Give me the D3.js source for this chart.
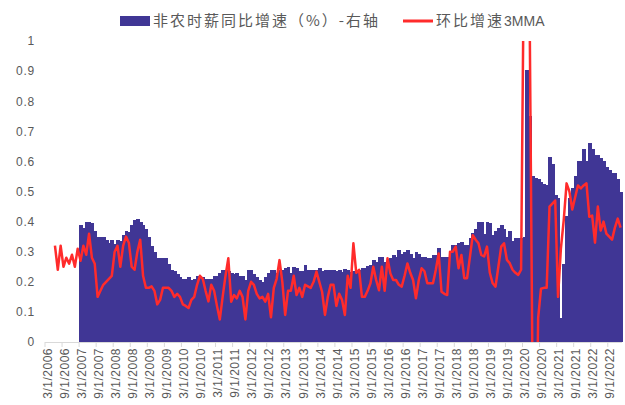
<!DOCTYPE html>
<html>
<head>
<meta charset="utf-8">
<script src="https://cdn.jsdelivr.net/npm/d3@7"></script>
<style>
  body { margin: 0; background: #fff; }
  svg text { font-family: "Liberation Sans", Arial, sans-serif; fill: #595959; }
  .legend text { font-family: "Noto Sans CJK SC", sans-serif; font-size: 15px; letter-spacing: 2px; }
</style>
</head>
<body>
<svg width="625" height="405"></svg>
<script>
// ---- data ----
const axisStart = new Date(2006, 2, 1);   // first category 3/1/2006
const axisEnd = new Date(2023, 1, 1);     // exclusive -> last category 1/1/2023

// 非农时薪同比增速（%），right axis, monthly from 3/1/2007
const barStart = new Date(2007, 2, 1);
const wageYoY = [
  3.9, 3.8, 4.0, 4.0, 3.95, 3.7, 3.5, 3.5, 3.5, 3.4,
  3.3, 3.4, 3.25, 3.4, 3.35, 3.55, 3.7, 3.65, 3.9, 4.05, 4.1, 4.0,
  3.9, 3.75, 3.5, 3.2, 3.0, 2.8, 2.8, 2.8, 2.8, 2.6, 2.4, 2.35,
  2.25, 2.15, 2.1, 2.1, 2.15, 2.05, 2.1, 2.2, 2.2, 2.17, 2.1, 2.1,
  2.1, 2.2, 2.2, 2.3, 2.4, 2.4, 2.35, 2.28, 2.25, 2.3, 2.2, 2.2,
  2.05, 2.4, 2.4, 2.25, 2.15, 2.05, 2.0, 2.15, 2.3, 2.4, 2.4, 2.3,
  2.4, 2.4, 2.45, 2.5, 2.3, 2.5, 2.45, 2.35, 2.35, 2.55, 2.4, 2.4,
  2.4, 2.4, 2.45, 2.35, 2.4, 2.4, 2.4, 2.4, 2.35, 2.4, 2.34, 2.41,
  2.4, 2.34, 2.36, 2.39, 2.39, 2.45, 2.45, 2.53, 2.55, 2.72, 2.67, 2.83,
  2.83, 2.67, 2.67, 2.78, 2.89, 2.83, 3.05, 2.94, 3.0, 3.05, 2.94, 2.78,
  3.0, 2.94, 2.83, 2.83, 2.8, 2.78, 2.89, 2.89, 3.11, 2.83, 2.83, 2.83,
  3.0, 3.22, 3.22, 3.28, 3.33, 3.22, 3.22, 3.44, 3.61, 3.77, 4.0, 4.0,
  3.6, 4.0, 3.95, 3.55, 3.7, 3.8, 3.9, 3.75, 3.5, 3.7, 3.35, 3.45,
  3.45, 3.45, 3.5, 9.04, 7.5, 5.5, 5.45, 5.4, 5.3, 5.25, 5.2, 6.15,
  5.9, 4.9, 4.8, 0.8, 2.6, 4.2, 4.8, 5.1, 5.5, 6.0, 6.0, 6.4,
  6.0, 6.6, 6.4, 6.2, 6.2, 6.1, 6.0, 5.8, 5.7, 5.6, 5.6, 5.4,
  5.0
];

// 环比增速3MMA, left axis, monthly from 6/1/2006
const lineStart = new Date(2006, 5, 1);
const mom3mma = [
  .32, .24, .32, .25, .28, .26, .29,
  .25, .31, .27, .32, .29, .36, .28, .26, .15, .17, .19, .20,
  .21, .22, .30, .32, .25, .32, .35, .33, .25, .24, .30, .34,
  .22, .18, .18, .185, .17, .125, .14, .18, .18, .18, .17, .15,
  .16, .15, .125, .12, .113, .14, .15, .19, .22, .21, .17, .135,
  .19, .17, .12, .075, .15, .22, .278, .134, .156, .145, .17, .15,
  .075, .17, .20, .19, .16, .145, .15, .134, .16, .082, .18, .21,
  .272, .20, .09, .17, .17, .22, .156, .18, .15, .19, .185, .18,
  .20, .234, .20, .166, .09, .15, .19, .19, .12, .16, .14, .09,
  .22, .18, .328, .23, .24, .15, .15, .17, .195, .25, .206, .172,
  .25, .17, .278, .228, .206, .206, .19, .184, .22, .261, .23, .206,
  .145, .206, .245, .235, .195, .195, .195, .24, .294, .167, .16, .156,
  .30, .30, .317, .245, .289, .212, .212, .283, .355, .34, .328, .289,
  .284, .317, .23, .195, .184, .25, .317, .328, .273, .262, .24, .23,
  .223, .24, 1.3, 2.0, 1.1, -.1, -.6, .08, .177, .18, .18, .45,
  .46, .47, .15, .31, .405, .527, .50, .44, .48, .52, .51, .52,
  .527, .416, .42, .33, .45, .37, .40, .36, .35, .34, .38, .41,
  .38
];

const yTicks = [0, 0.1, 0.2, 0.3, 0.4, 0.5, 0.6, 0.7, 0.8, 0.9, 1];
const xTickLabels = [
  '3/1/2006', '9/1/2006', '3/1/2007', '9/1/2007', '3/1/2008', '9/1/2008',
  '3/1/2009', '9/1/2009', '3/1/2010', '9/1/2010', '3/1/2011', '9/1/2011',
  '3/1/2012', '9/1/2012', '3/1/2013', '9/1/2013', '3/1/2014', '9/1/2014',
  '3/1/2015', '9/1/2015', '3/1/2016', '9/1/2016', '3/1/2017', '9/1/2017',
  '3/1/2018', '9/1/2018', '3/1/2019', '9/1/2019', '3/1/2020', '9/1/2020',
  '3/1/2021', '9/1/2021', '3/1/2022', '9/1/2022'
];
const legendBar = '非农时薪同比增速（%）-右轴';
const legendLine = ['环比增速', '3MMA'];

// ---- chart ----
const svg = d3.select('svg');
const width = +svg.attr('width');
const height = +svg.attr('height');

const margin = { top: 41, left: 45, right: 3, bottom: 63 };
const plotW = width - margin.left - margin.right;
const plotH = height - margin.top - margin.bottom;

const key = d3.timeFormat('%Y-%m');
const parseTick = d3.timeParse('%m/%d/%Y');
const months = d3.timeMonth.range(axisStart, axisEnd).map(key);

const bars = wageYoY.map((v, i) => ({ k: key(d3.timeMonth.offset(barStart, i)), v }));
const line = mom3mma.map((v, i) => ({ k: key(d3.timeMonth.offset(lineStart, i)), v }));

const x = d3.scaleBand().domain(months).range([0, plotW]).padding(0);
const y = d3.scaleLinear().domain([0, 1]).range([plotH, 0]);
const yRight = d3.scaleLinear().domain([0, 10]).range([plotH, 0]); // hidden right axis

const g = svg.append('g')
  .attr('transform', `translate(${margin.left},${margin.top})`);

g.append('clipPath').attr('id', 'plot')
  .append('rect').attr('width', plotW + 2).attr('height', plotH);

// bars (crisp, slightly overlapping so no seams show)
g.append('g').attr('clip-path', 'url(#plot)')
  .attr('shape-rendering', 'crispEdges')
  .selectAll('rect').data(bars)
  .enter().append('rect')
  .attr('x', d => x(d.k))
  .attr('width', x.bandwidth() + 1)
  .attr('y', d => yRight(d.v))
  .attr('height', d => plotH - yRight(d.v))
  .attr('fill', '#403695');

// line
const path = d3.line()
  .x(d => x(d.k) + x.bandwidth() / 2)
  .y(d => y(d.v));

g.append('path').datum(line)
  .attr('clip-path', 'url(#plot)')
  .attr('d', path)
  .attr('fill', 'none')
  .attr('stroke', '#ff2b2b')
  .attr('stroke-width', 2.5)
  .attr('stroke-linejoin', 'round');

// y axis (left)
const yAxis = g.append('g').call(d3.axisLeft(y).tickValues(yTicks)
  .tickFormat(d3.format('~g')).tickSize(0).tickPadding(10));
yAxis.select('.domain').remove();
yAxis.selectAll('text')
  .attr('font-size', 12)
  .style('letter-spacing', '0.8px')
  .style('font-family', '"Liberation Sans", Arial, sans-serif')
  .attr('fill', '#595959');

// x axis
const tickKeys = xTickLabels.map(s => key(parseTick(s)));
const xAxis = g.append('g')
  .attr('transform', `translate(0,${plotH})`)
  .call(d3.axisBottom(x).tickValues(tickKeys).tickSize(5).tickFormat((d, i) => xTickLabels[i]));
xAxis.select('.domain').attr('stroke', '#d9d9d9').attr('d', `M0,0.5H${plotW}`);
xAxis.selectAll('.tick').attr('transform', d => `translate(${x(d)},0)`);
xAxis.selectAll('.tick line').attr('stroke', '#d9d9d9');
xAxis.selectAll('.tick text')
  .attr('font-size', 12)
  .style('letter-spacing', '0.5px')
  .style('font-family', '"Liberation Sans", Arial, sans-serif')
  .attr('fill', '#666')
  .attr('text-anchor', 'end')
  .attr('y', 0)
  .attr('dy', '0.35em')
  .attr('transform', 'translate(2.5,6) rotate(-90)');

// legend
const legend = svg.append('g').attr('class', 'legend');
legend.append('rect')
  .attr('x', 120).attr('y', 16).attr('width', 30).attr('height', 10)
  .attr('fill', '#403695');
legend.append('text')
  .attr('x', 153).attr('y', 21).attr('dy', '0.36em')
  .text(legendBar);
legend.append('line')
  .attr('x1', 403).attr('x2', 433).attr('y1', 21).attr('y2', 21)
  .attr('stroke', '#ff2b2b').attr('stroke-width', 3);
const t2 = legend.append('text')
  .attr('x', 436).attr('y', 21).attr('dy', '0.36em');
t2.append('tspan').text(legendLine[0]);
t2.append('tspan')
  .style('letter-spacing', '0px')
  .style('font-family', '"Liberation Sans Narrow", "Liberation Sans", Arial, sans-serif')
  .attr('font-size', 14)
  .text(legendLine[1]);
</script>
</body>
</html>
